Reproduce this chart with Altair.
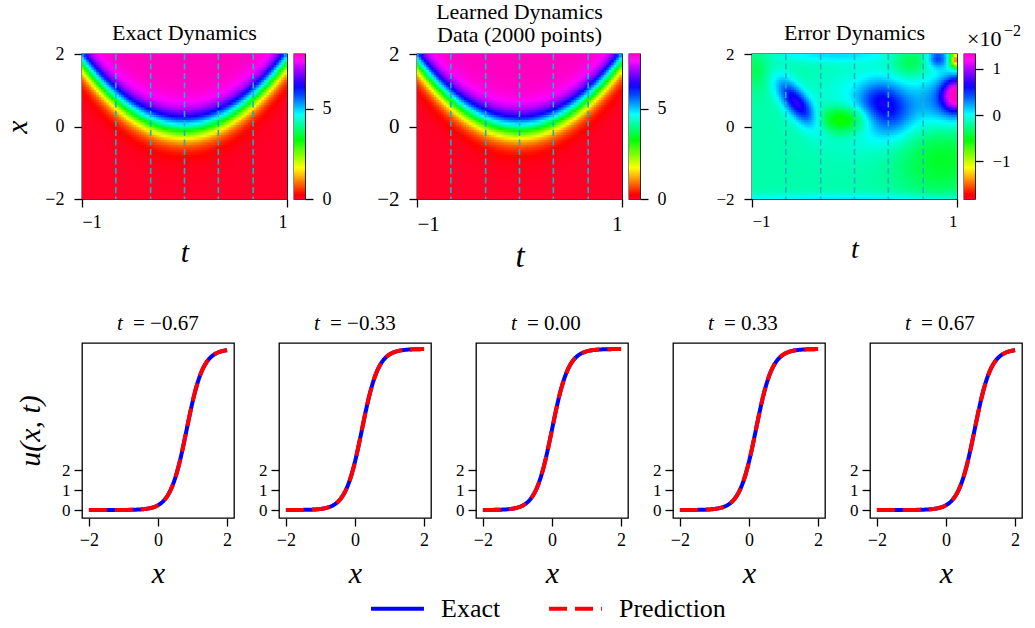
import numpy as np
import pandas as pd
import altair as alt

FONT = "Liberation Serif"

# ---- domain of the space-time maps ----
T_RANGE = [-1.0, 1.0]
X_RANGE = [-2.0, 2.0]
T_SLICES = [-0.67, -0.33, 0.0, 0.33, 0.67]

# ---- travelling front: plateau height, steepness and parabolic shift of its centre ----
U_MAX = 8.05
FRONT_STEEP = 2.1
FRONT_CURV = 1.85

# ---- error field (units of 1e-2): background plus localised features ----
ERR_BASE = -0.17
ERR_T = [-0.56, 0.10, -0.10, 0.35, 0.22, 1.00, 0.90, 1.00, 0.82, 0.85, -0.95, -0.20, 0.00, 0.55]
ERR_X = [0.68, 0.50, 0.21, 0.45, 0.85, 0.90, 0.75, 1.85, 1.90, -0.90, 1.60, 2.00, -2.00, 1.80]
ERR_ST = [0.135, 0.35, 0.17, 0.18, 0.14, 0.09, 0.20, 0.04, 0.07, 0.30, 0.10, 0.40, 1.20, 0.12]
ERR_SX = [0.455, 0.80, 0.26, 0.50, 0.35, 0.32, 0.50, 0.15, 0.18, 0.70, 0.40, 0.15, 0.12, 0.30]
ERR_RHO = [-0.72, 0, 0, 0, 0, 0, 0, 0, 0, 0, 0, 0, 0, 0]
ERR_AMP = [0.85, 0.20, -0.60, 0.55, 0.25, 1.25, 0.50, -1.40, 0.60, -0.30, -0.20, 0.25, 0.25, -0.25]

ERR_RANGE = [-1.81, 1.32]

# gist_rainbow colour map stops
CMAP_POS = [0.0, 0.03, 0.215, 0.4, 0.586, 0.77, 0.954, 1.0]
CMAP_COL = ["#ff0029", "#ff0000", "#ffff00", "#00ff00", "#00ffff", "#0000ff", "#ff00ff", "#ff00bf"]

SLICE_COLOR = "#19b2bd"
EXACT_COLOR = "#0000ff"
PRED_COLOR = "#ff0000"

NT, NX = 82, 58


def exact_u(t, x):
    c = FRONT_CURV * t ** 2
    return 0.5 * U_MAX * (1.0 + np.tanh(FRONT_STEEP * (x - c)))


def error_field(t, x):
    e = np.full_like(np.asarray(t, dtype=float), ERR_BASE)
    for t0, x0, st, sx, r, a in zip(ERR_T, ERR_X, ERR_ST, ERR_SX, ERR_RHO, ERR_AMP):
        dt = (t - t0) / st
        dx = (x - x0) / sx
        q = (dt ** 2 - 2 * r * dt * dx + dx ** 2) / (1 - r ** 2)
        e = e + a * np.exp(-0.5 * q)
    return e


def cscale(vmin, vmax):
    dom = [vmin + p * (vmax - vmin) for p in CMAP_POS]
    return alt.Scale(domain=dom, range=CMAP_COL, interpolate="rgb", clamp=True)


# grid of cell centres
tc = np.linspace(T_RANGE[0], T_RANGE[1], NT + 1)
xc = np.linspace(X_RANGE[0], X_RANGE[1], NX + 1)
tm = 0.5 * (tc[:-1] + tc[1:])
xm = 0.5 * (xc[:-1] + xc[1:])
TT, XX = np.meshgrid(tm, xm)
U_EX = exact_u(TT, XX)
ERR = error_field(TT, XX)
U_PR = U_EX + 0.01 * ERR

DT = (T_RANGE[1] - T_RANGE[0]) / NT
DX = (X_RANGE[1] - X_RANGE[0]) / NX


def grid_df(vals):
    return pd.DataFrame({"t": TT.ravel().round(4), "x": XX.ravel().round(4),
                         "u": vals.ravel().round(4)})


slices_df = pd.DataFrame({"t0": T_SLICES})


def heatmap(vals, vmin, vmax, title, tick_fs, ttl_fs, ylabel, width, title_dy):
    sc_t = alt.Scale(domain=T_RANGE, nice=False, zero=False)
    sc_x = alt.Scale(domain=X_RANGE, nice=False, zero=False)
    ax_t = alt.Axis(values=[-1, 0, 1], format="d", title="t", labelFontSize=tick_fs,
                    titleFontSize=ttl_fs, titleFontStyle="italic", labelPadding=6,
                    titlePadding=6)
    ax_x = alt.Axis(values=[-2, 0, 2], format="d", title="x" if ylabel else None,
                    labelFontSize=tick_fs, titleFontSize=ttl_fs, titleFontStyle="italic",
                    titleAngle=-90, titlePadding=12, labelPadding=10)
    eps_t = DT * 0.8
    eps_x = DX * 0.8
    rect = (
        alt.Chart(grid_df(vals))
        .transform_calculate(t0=f"datum.t-{eps_t}", t1=f"datum.t+{eps_t}",
                             x0=f"datum.x-{eps_x}", x1=f"datum.x+{eps_x}")
        .mark_rect(clip=True)
        .encode(
            x=alt.X("t0:Q", scale=sc_t, axis=ax_t),
            x2="t1:Q",
            y=alt.Y("x0:Q", scale=sc_x, axis=ax_x),
            y2="x1:Q",
            color=alt.Color("u:Q", scale=cscale(vmin, vmax), legend=None),
        )
    )
    rules = (
        alt.Chart(slices_df)
        .mark_rule(color=SLICE_COLOR, strokeDash=[6, 3.5], strokeWidth=1.6)
        .encode(x=alt.X("t0:Q", scale=sc_t, axis=ax_t))
    )
    return alt.layer(rect, rules).properties(
        width=width, height=145,
        title=alt.TitleParams(title, font=FONT, fontSize=22, fontWeight="normal",
                              color="black", offset=-4, lineHeight=23, dy=title_dy),
    )


def colorbar(vmin, vmax, ticks, tick_fs, extra=None):
    n = 150
    v = np.linspace(vmin, vmax, n + 1)
    step = (vmax - vmin) / n
    df = pd.DataFrame({"v0": v[:-1], "v1": v[1:] + 0.6 * step, "v": v[:-1] + 0.5 * step})
    rect = (
        alt.Chart(df)
        .mark_rect(clip=True)
        .encode(
            x=alt.value(0), x2=alt.value(11),
            y=alt.Y("v0:Q", scale=alt.Scale(domain=[vmin, vmax], nice=False, zero=False),
                    axis=alt.Axis(orient="right", values=ticks, format="d", title=None,
                                  labelFontSize=tick_fs, labelPadding=9)),
            y2="v1:Q",
            color=alt.Color("v:Q", scale=cscale(vmin, vmax), legend=None),
        )
    )
    layers = [rect]
    if extra is not None:
        lab = pd.DataFrame({"a": ["×10"], "b": ["−2"]})
        layers.append(alt.Chart(lab).mark_text(font=FONT, fontSize=22, align="left",
                                               baseline="alphabetic", color="black")
                      .encode(text="a:N", x=alt.value(3), y=alt.value(-8)))
        layers.append(alt.Chart(lab).mark_text(font=FONT, fontSize=16, align="left",
                                               baseline="alphabetic", color="black")
                      .encode(text="b:N", x=alt.value(40), y=alt.value(-18)))
    return alt.layer(*layers).properties(width=11, height=145)


def spacer(w):
    return (alt.Chart(pd.DataFrame({"s": [0]})).mark_point(opacity=0)
            .encode(x=alt.X("s:Q", axis=None), y=alt.Y("s:Q", axis=None))
            .properties(width=w, height=145, view=alt.ViewBackground(stroke=None)))


ex_min, ex_max = 0.0, float(U_EX.max())
pr_min, pr_max = 0.0, float(U_PR.max())

h1 = heatmap(U_EX, ex_min, ex_max, "Exact Dynamics", 18, 30, True, 205, -4)
h2 = heatmap(U_PR, pr_min, pr_max, ["Learned Dynamics", "Data (2000 points)"], 21, 33, False, 205, 0)
h3 = heatmap(ERR, ERR_RANGE[0], ERR_RANGE[1], "Error Dynamics", 17, 28, False, 205, -4)
c1 = colorbar(ex_min, ex_max, [0, 5], 18)
c2 = colorbar(pr_min, pr_max, [0, 5], 18)
c3 = colorbar(ERR_RANGE[0], ERR_RANGE[1], [-1, 0, 1], 17, extra=True)

top = alt.hconcat(h1, c1, spacer(98), h2, c2, spacer(98), h3, c3, spacing=7,
                  bounds="flush").resolve_scale(color="independent")

# ---- slices u(x, t) ----
XS = np.linspace(-2.0, 2.0, 201)
SERIES = ["Exact", "Prediction"]

legend = alt.Legend(orient="none", legendX=287, legendY=237, direction="horizontal",
                    title=None, symbolType="stroke", symbolSize=2800, symbolStrokeWidth=4,
                    labelFont=FONT, labelFontSize=26, labelOffset=15, columnPadding=40,
                    padding=0, labelColor="black")


def slice_panel(tval, first):
    ue = exact_u(tval, XS)
    up = ue + 0.01 * error_field(np.full_like(XS, tval), XS)
    df = pd.DataFrame({"x": np.concatenate([XS, XS]), "u": np.concatenate([ue, up]),
                       "series": ["Exact"] * len(XS) + ["Prediction"] * len(XS)})
    lines = (
        alt.Chart(df)
        .mark_line(strokeWidth=4)
        .encode(
            x=alt.X("x:Q", scale=alt.Scale(domain=[-2.2, 2.2], nice=False, zero=False),
                    axis=alt.Axis(values=[-2, 0, 2], format="d", title="x",
                                  labelFontSize=18, titleFontSize=30, titleFontStyle="italic",
                                  labelPadding=5, titlePadding=9)),
            y=alt.Y("u:Q", scale=alt.Scale(domain=[-0.4, 8.35], nice=False, zero=False),
                    axis=alt.Axis(values=[0, 1, 2], format="d",
                                  title="u(x, t)" if first else None,
                                  labelFontSize=17, titleFontSize=30, titleFontStyle="italic",
                                  labelPadding=4, titlePadding=16)),
            color=alt.Color("series:N", scale=alt.Scale(domain=SERIES,
                                                        range=[EXACT_COLOR, PRED_COLOR]),
                            legend=legend),
            strokeDash=alt.StrokeDash("series:N", scale=alt.Scale(domain=SERIES,
                                                                  range=[[1, 0], [18, 8]]),
                                      legend=legend),
            order=alt.Order("series:N"),
        )
    )
    lab = pd.DataFrame({"t": ["t"], "rest": ["= " + f"{tval:.2f}".replace("-", "−")]})
    t_txt = (alt.Chart(lab).mark_text(font=FONT, fontSize=21, fontStyle="italic",
                                      align="left", baseline="alphabetic", color="black")
             .encode(text="t:N", x=alt.value(35), y=alt.value(-13)))
    r_txt = (alt.Chart(lab).mark_text(font=FONT, fontSize=21, align="left",
                                      baseline="alphabetic", color="black")
             .encode(text="rest:N", x=alt.value(51), y=alt.value(-13)))
    return alt.layer(lines, t_txt, r_txt).properties(width=152, height=175)


bottom = alt.hconcat(*[slice_panel(tv, i == 0) for i, tv in enumerate(T_SLICES)],
                     spacing=45, bounds="flush")

chart = (
    alt.vconcat(top, bottom, spacing=38)
    .resolve_scale(color="independent", strokeDash="independent")
    .properties(padding={"left": 2, "top": 0, "right": 5, "bottom": 0},
                background="white")
    .configure_view(stroke="black", strokeWidth=1.3)
    .configure_axis(labelFont=FONT, titleFont=FONT, labelColor="black", titleColor="black",
                    titleFontWeight="normal", tickColor="black", tickWidth=1.3, tickSize=8,
                    domain=False, grid=False)
    .configure_text(font=FONT)
)

chart.save("out.html", embed_options={"renderer": "svg", "actions": False})
